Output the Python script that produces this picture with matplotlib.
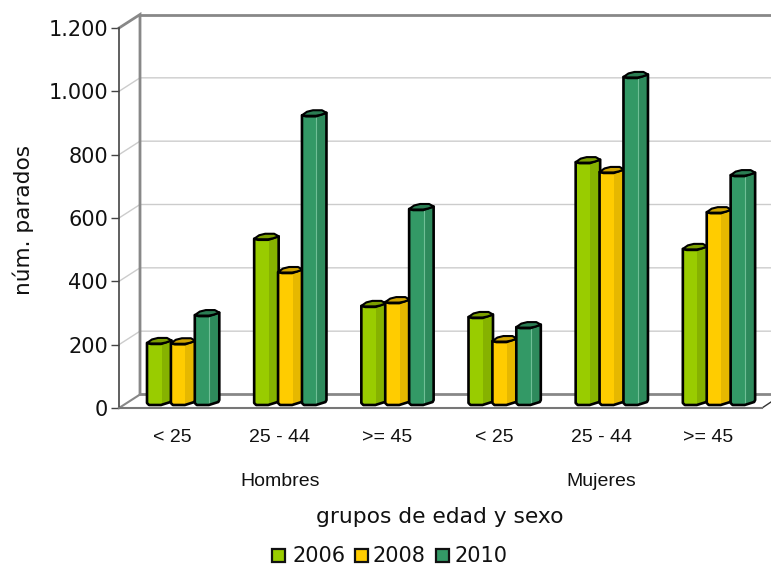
import matplotlib
matplotlib.use("Agg")
import matplotlib.pyplot as plt
from matplotlib.patches import Polygon, Rectangle
from matplotlib.transforms import blended_transform_factory

W, H = 771, 566
groups = ["< 25", "25 - 44", ">= 45", "< 25", "25 - 44", ">= 45"]
sexes = ["Hombres", "Mujeres"]
years = ["2006", "2008", "2010"]
v2006 = [196, 525, 313, 278, 767, 493]
v2008 = [195, 420, 325, 202, 736, 609]
v2010 = [284, 915, 619, 246, 1036, 726]
yticks = [0, 200, 400, 600, 800, 1000, 1200]
ytick_labels = ["0", "200", "400", "600", "800", "1.000", "1.200"]

face = ["#99cc00", "#ffcc00", "#339966"]
side = ["#86b200", "#e6b800", "#2e8a5c"]
top = ["#7c9f00", "#cfa400", "#2b7d53"]

fig = plt.figure(figsize=(W / 100, H / 100), dpi=100)
L, R, T, B = 119, 762, 28, 408
ax = fig.add_axes([L / W, 1 - B / H, (R - L) / W, (B - T) / H])
ax.set_xlim(0, 6)
ax.set_ylim(0, 1200)
ax.patch.set_alpha(0)

# px -> data
sx = 6 / (R - L)
sy = 1200 / (B - T)
DX, DY = 21 * sx, 13.5 * sy


def px(x0, pts):
    return [(x0 + a * sx, b * sy) for a, b in pts]


# walls
for t in yticks[1:-1]:
    ax.plot([0, DX, 6 + DX], [t, t + DY, t + DY], color="#cccccc", lw=1, clip_on=False, zorder=1)
wall = "#888888"
ax.plot([0, DX, DX, 6 + DX], [1200, 1200 + DY, DY, DY], color=wall, lw=2, clip_on=False, zorder=2,
        solid_joinstyle="miter")
ax.plot([DX, 6 + DX], [1200 + DY, 1200 + DY], color=wall, lw=2, clip_on=False, zorder=2)
ax.plot([0, DX], [0, DY], color=wall, lw=1.5, clip_on=False, zorder=2)
ax.plot([6, 6 + 9 * sx], [0, 6 * sy], color="#333333", lw=1, clip_on=False, zorder=2)

for sp in ["top", "right"]:
    ax.spines[sp].set_visible(False)
ax.spines["left"].set_color("#444444")
ax.spines["left"].set_linewidth(1.2)
ax.spines["bottom"].set_color("#777777")
ax.spines["bottom"].set_linewidth(1.5)

ax.set_yticks(yticks)
ax.set_yticklabels(ytick_labels, fontsize=15, color="#111111")
ax.tick_params(axis="y", length=6, width=1, color="#444444", pad=2)
ax.set_xticks([i + 0.5 for i in range(6)])
ax.set_xticklabels(groups, fontsize=14, family="Liberation Sans", color="#111111")
ax.tick_params(axis="x", length=0, pad=15)

tr = blended_transform_factory(ax.transData, fig.transFigure)
for i, s in enumerate(sexes):
    ax.text(1.5 + 3 * i, 1 - 481 / H, s, transform=tr, ha="center", va="center",
            fontsize=14, family="Liberation Sans", color="#111111")
fig.text(440 / W, 1 - 517 / H, "grupos de edad y sexo", ha="center", va="center", fontsize=15.7, color="#111111")
fig.text(23 / W, 1 - 220 / H, "núm. parados", ha="center", va="center", rotation=90, fontsize=15.6, color="#111111")

# cylinders
BW = 24.5
series = [v2006, v2008, v2010]
for g in range(6):
    x_left = g + 28 * sx
    for k in range(3):
        x0 = x_left + k * 23.9 * sx
        v = series[k][g]
        # face top in px above the axis line, bars sit 3px up because of the depth
        h = v / sy + 3
        outline = [(0, h), (0, 5), (2, 3), (14, 3), (BW - 1, 6), (BW, 8), (BW, h + 2.5), (14, h - 1), (4, h - 1)]
        body = Polygon(px(x0, outline), closed=True, fc=face[k], ec="none", clip_on=False, zorder=5 + k)
        ax.add_patch(body)
        strip = Rectangle((x0 + 14.5 * sx, 0), 11 * sx, v + 12 * sy, fc=side[k], ec="none", zorder=5 + k)
        ax.add_patch(strip)
        strip.set_clip_path(body)
        if k == 2:
            ln, = ax.plot([x0 + 14.5 * sx] * 2, [3 * sy, h * sy], color="#6fbf96", lw=0.8, zorder=5 + k)
            ln.set_clip_path(body)
        ax.add_patch(Polygon(px(x0, outline), closed=True, fc="none", ec="black", lw=1.9, joinstyle="round",
                             clip_on=False, zorder=5 + k))
        cap = [(0, h), (5, h + 3.5), (11, h + 5), (20, h + 5), (BW, h + 2.5), (19, h + 0.5), (14, h - 0.5),
               (4, h - 0.5)]
        ax.add_patch(Polygon(px(x0, cap), closed=True, fc=top[k], ec="black", lw=1.5, joinstyle="round",
                             clip_on=False, zorder=5 + k))

# legend
for i, (x_box, x_txt) in enumerate(zip([272, 355, 436], [292, 373, 455])):
    fig.patches.append(Rectangle((x_box / W, 1 - 562 / H), 13 / W, 13 / H, transform=fig.transFigure, fc=face[i],
                                 ec="#111111", lw=1.6))
    fig.text(x_txt / W, 1 - 556 / H, years[i], ha="left", va="center", fontsize=15, color="#111111")

fig.savefig("out.png", dpi=100)
